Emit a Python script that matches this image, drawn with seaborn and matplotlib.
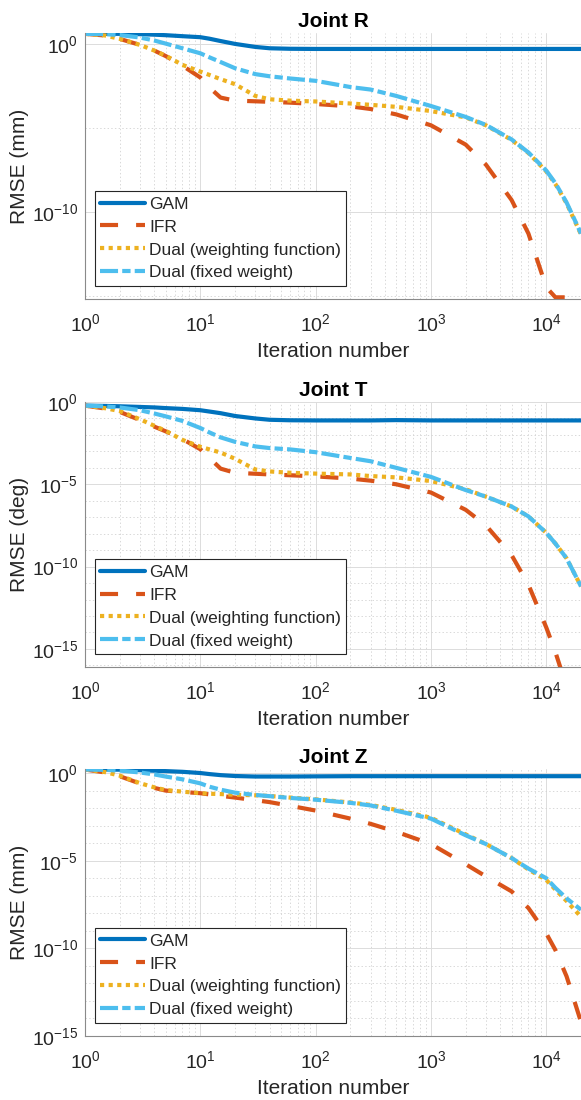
import matplotlib
matplotlib.use("Agg")  # no display in the sandbox
import matplotlib.pyplot as plt
import matplotlib.ticker as mticker
import seaborn as sns
import numpy as np

# iteration grid shared by all curves
iters = [1, 1.5, 2, 3, 4, 5, 7, 10, 12, 15, 20, 30, 40, 60, 100, 200, 300,
         500, 1000, 2000, 3000, 5000, 7000, 10000, 12000, 15000, 20000]

# RMSE values as log10 exponents
r_gam_log10 = [0.6, 0.6, 0.6, 0.58, 0.55, 0.52, 0.46, 0.40, 0.31, 0.17, 0.0, -0.18, -0.26,
               -0.29, -0.3, -0.3, -0.3, -0.3, -0.3, -0.3, -0.3, -0.3, -0.3, -0.3, -0.3, -0.3, -0.3]
r_ifr_log10 = [0.6, 0.5, 0.3, -0.06, -0.4, -0.72, -1.3, -2.0, -2.6, -3.2, -3.38, -3.42, -3.45,
               -3.5, -3.58, -3.72, -3.88, -4.2, -4.85, -6.0, -7.2, -9.3, -11.3, -14.5, -15.1, -15.1, np.nan]
r_wf_log10 = [0.6, 0.5, 0.3, -0.06, -0.4, -0.7, -1.25, -1.65, -1.85, -2.1, -2.4, -3.1, -3.3,
              -3.38, -3.43, -3.55, -3.63, -3.75, -4.0, -4.38, -4.85, -5.72, -6.5, -7.6, -8.35, -9.5, -11.35]
r_fw_log10 = [0.6, 0.58, 0.53, 0.38, 0.2, 0.02, -0.26, -0.56, -0.8, -1.08, -1.45, -1.8, -1.93,
              -2.06, -2.2, -2.57, -2.72, -3.1, -3.7, -4.35, -4.83, -5.69, -6.47, -7.55, -8.3, -9.45, -11.3]

t_gam_log10 = [-0.22, -0.24, -0.26, -0.3, -0.33, -0.37, -0.42, -0.5, -0.58, -0.68, -0.85, -1.0, -1.08,
               -1.11, -1.12, -1.12, -1.12, -1.1, -1.12, -1.12, -1.12, -1.12, -1.12, -1.12, -1.12, -1.12, -1.12]
t_ifr_log10 = [-0.22, -0.4, -0.6, -1.1, -1.5, -1.78, -2.25, -2.87, -3.4, -4.05, -4.3, -4.36, -4.4,
               -4.45, -4.52, -4.65, -4.78, -5.0, -5.5, -6.55, -7.5, -9.3, -11.1, -13.7, -15.2, -17.3, np.nan]
t_wf_log10 = [-0.22, -0.38, -0.55, -1.05, -1.45, -1.75, -2.3, -2.72, -2.88, -3.07, -3.45, -4.1, -4.22,
              -4.3, -4.35, -4.4, -4.5, -4.58, -4.8, -5.3, -5.75, -6.35, -6.95, -7.95, -8.6, -9.5, -11.2]
t_fw_log10 = [-0.22, -0.27, -0.33, -0.5, -0.7, -0.87, -1.15, -1.58, -1.85, -2.15, -2.42, -2.7, -2.8,
              -2.88, -3.05, -3.4, -3.6, -4.0, -4.55, -5.35, -5.75, -6.35, -6.95, -7.95, -8.6, -9.5, -11.2]

z_gam_log10 = [0.2, 0.2, 0.19, 0.16, 0.13, 0.11, 0.07, 0.0, -0.06, -0.12, -0.17, -0.2, -0.2,
               -0.2, -0.19, -0.18, -0.18, -0.18, -0.18, -0.18, -0.18, -0.18, -0.18, -0.18, -0.18, -0.18, -0.18]
z_ifr_log10 = [0.2, 0.03, -0.18, -0.6, -0.85, -1.0, -1.08, -1.15, -1.22, -1.3, -1.4, -1.55, -1.66,
               -1.87, -2.14, -2.6, -2.9, -3.35, -4.05, -5.2, -5.9, -6.75, -7.7, -9.15, -10.1, -11.6, -14.2]
z_wf_log10 = [0.2, 0.05, -0.15, -0.58, -0.82, -0.97, -1.06, -1.15, -1.18, -1.2, -1.24, -1.27, -1.31,
              -1.4, -1.5, -1.68, -1.82, -2.1, -2.55, -3.5, -4.05, -4.85, -5.5, -6.1, -6.65, -7.3, -8.2]
z_fw_log10 = [0.2, 0.18, 0.14, 0.03, -0.08, -0.2, -0.36, -0.59, -0.78, -0.95, -1.12, -1.25, -1.32,
              -1.42, -1.52, -1.7, -1.85, -2.15, -2.6, -3.55, -4.05, -4.85, -5.45, -6.0, -6.55, -7.15, -7.8]

series_names = ["GAM", "IFR", "Dual (weighting function)", "Dual (fixed weight)"]
panel_titles = ["Joint R", "Joint T", "Joint Z"]
panel_ylabels = ["RMSE (mm)", "RMSE (deg)", "RMSE (mm)"]

# y limits and tick exponents per panel
r_ylim = (-15.2, 0.65)
t_ylim = (-16.1, 0.0)
z_ylim = (-15.0, 0.23)
r_major = [0, -10]
r_minor = [-5, -15]
t_major = [0, -5, -10, -15]
t_minor = [e for e in range(0, -17, -1) if e % 5 != 0]
z_major = [0, -5, -10, -15]
z_minor = [e for e in range(0, -16, -1) if e % 5 != 0]

sns.set_theme(style="white")
plt.rcParams["font.family"] = ["Liberation Sans", "DejaVu Sans"]
plt.rcParams["mathtext.default"] = "regular"
plt.rcParams["axes.unicode_minus"] = False
plt.rcParams["lines.scale_dashes"] = False

COLORS = {
    "GAM": "#0072BD",
    "IFR": "#D95319",
    "Dual (weighting function)": "#EDB120",
    "Dual (fixed weight)": "#4DBEEE",
}
DASHES = {
    "GAM": None,
    "IFR": (13, 13),
    "Dual (weighting function)": (3.0, 3.2),
    "Dual (fixed weight)": (13, 3, 6, 3),
}
LW = 3.0
SPINE = "#8a8a8a"
TEXT = "#262626"


def draw_panel(ax, title, ylabel, curves, ylim_exp, major_exp, minor_exp):
    ax.set_xscale("log")
    ax.set_yscale("log")
    for name, vals in zip(series_names, curves):
        y = 10.0 ** np.asarray(vals, dtype=float)
        sns.lineplot(x=iters, y=y, ax=ax, color=COLORS[name], linewidth=LW,
                     label=name, legend=False, estimator=None, errorbar=None)
        line = ax.lines[-1]
        if DASHES[name] is not None:
            line.set_dashes(DASHES[name])
            line.set_dash_capstyle("butt")

    ax.set_xlim(1, 2e4)
    ax.set_ylim(10.0 ** ylim_exp[0], 10.0 ** ylim_exp[1])

    ax.xaxis.set_major_locator(mticker.LogLocator(base=10, numticks=12))
    ax.xaxis.set_minor_locator(mticker.LogLocator(base=10, subs=np.arange(2, 10), numticks=12))
    ax.xaxis.set_minor_formatter(mticker.NullFormatter())
    ax.yaxis.set_major_locator(mticker.FixedLocator(10.0 ** np.array(major_exp, dtype=float)))
    ax.yaxis.set_minor_locator(mticker.FixedLocator(10.0 ** np.array(minor_exp, dtype=float)))
    ax.yaxis.set_major_formatter(mticker.LogFormatterSciNotation())
    ax.yaxis.set_minor_formatter(mticker.NullFormatter())

    ax.grid(True, which="major", color="#dcdcdc", linewidth=0.7, linestyle="-")
    ax.grid(True, which="minor", color="#d2d2d2", linewidth=0.6, linestyle=":")
    ax.set_axisbelow(True)

    for s in ("top", "right"):
        ax.spines[s].set_visible(False)
    for s in ("left", "bottom"):
        ax.spines[s].set_color(SPINE)
        ax.spines[s].set_linewidth(0.8)

    ax.tick_params(which="both", direction="in", color=SPINE)
    ax.tick_params(which="both", labelcolor=TEXT, labelsize=14)
    ax.tick_params(which="major", length=4, width=0.7)
    ax.tick_params(which="minor", length=2.5, width=0.6)
    ax.tick_params(axis="x", which="major", pad=10)
    ax.tick_params(axis="y", which="major", pad=5)

    ax.set_title(title, fontsize=15, fontweight="bold", pad=4, color="black")
    ax.set_xlabel("Iteration number", fontsize=15, labelpad=5, color=TEXT)
    ax.set_ylabel(ylabel, fontsize=15, labelpad=2, color=TEXT)

    leg = ax.legend(loc="lower left", bbox_to_anchor=(0.02, 0.05), borderaxespad=0,
                    fontsize=12.5, handlelength=2.6, handletextpad=0.22,
                    borderpad=0.3, labelspacing=0.45, frameon=True, fancybox=False,
                    framealpha=1, edgecolor=TEXT)
    leg.get_frame().set_linewidth(0.8)


fig = plt.figure(figsize=(5.81, 11.0), dpi=100)
left, width = 85 / 581, 496 / 581
ax_r = fig.add_axes([left, 1 - 299 / 1100, width, 266 / 1100])
ax_t = fig.add_axes([left, 1 - 667 / 1100, width, 265 / 1100])
ax_z = fig.add_axes([left, 1 - 1036 / 1100, width, 267 / 1100])

draw_panel(ax_r, panel_titles[0], panel_ylabels[0],
           [r_gam_log10, r_ifr_log10, r_wf_log10, r_fw_log10], r_ylim, r_major, r_minor)
draw_panel(ax_t, panel_titles[1], panel_ylabels[1],
           [t_gam_log10, t_ifr_log10, t_wf_log10, t_fw_log10], t_ylim, t_major, t_minor)
draw_panel(ax_z, panel_titles[2], panel_ylabels[2],
           [z_gam_log10, z_ifr_log10, z_wf_log10, z_fw_log10], z_ylim, z_major, z_minor)

fig.savefig("out.png", dpi=100)
plt.close(fig)
